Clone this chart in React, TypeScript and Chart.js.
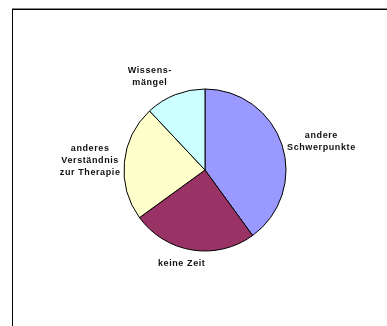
import React, { useEffect, useRef } from "react";
import { Chart, registerables } from "chart.js";

Chart.register(...registerables);

const categories: string[][] = [
  ["andere", "Schwerpunkte"],
  ["keine Zeit"],
  ["anderes", "Verständnis", "zur Therapie"],
  ["Wissens-", "mängel"],
];
const values: number[] = [40, 25, 23, 12];
const colors: string[] = ["#9999FF", "#993366", "#FFFFCC", "#CCFFFF"];
const labelNudges: number[][] = [
  [1, 2],
  [-6, 2],
  [2, 0],
  [-15, -1],
];

const labelPlugin = {
  id: "pieLabels",
  afterDatasetsDraw(chart: any) {
    const ctx = chart.ctx;
    const meta = chart.getDatasetMeta(0);
    ctx.save();
    ctx.font = "bold 9px 'Liberation Sans', Arial, sans-serif";
    (ctx as any).letterSpacing = "0.6px";
    ctx.fillStyle = "#111111";
    ctx.textAlign = "center";
    ctx.textBaseline = "middle";
    const lineH = 12;
    meta.data.forEach((arc: any, i: number) => {
      const p = arc.getProps(["x", "y", "startAngle", "endAngle", "outerRadius"], true);
      const mid = (p.startAngle + p.endAngle) / 2;
      const dx = Math.cos(mid);
      const dy = Math.sin(mid);
      const gap = 6;
      const ax = p.x + (p.outerRadius + gap) * dx;
      const ay = p.y + (p.outerRadius + gap) * dy;
      const lines = categories[i];
      const w = Math.max(...lines.map((l) => ctx.measureText(l).width));
      const h = lines.length * lineH;
      const cx = ax + (dx * w) / 2 + labelNudges[i][0];
      const cy = ay + (dy * h) / 2 + labelNudges[i][1];
      lines.forEach((l, j) => {
        ctx.fillText(l, cx, cy - h / 2 + lineH / 2 + j * lineH);
      });
    });
    ctx.restore();
  },
};

export default function App() {
  const ref = useRef<HTMLCanvasElement | null>(null);
  useEffect(() => {
    document.documentElement.style.overflow = "hidden";
    document.body.style.margin = "0";
    document.body.style.overflow = "hidden";
    const chart = new Chart(ref.current as HTMLCanvasElement, {
      type: "pie",
      data: {
        labels: categories.map((c) => c.join(" ")),
        datasets: [
          {
            data: values,
            backgroundColor: colors,
            borderColor: "#000000",
            borderWidth: 1,
          },
        ],
      },
      options: {
        responsive: false,
        animation: false,
        devicePixelRatio: 1,
        radius: 81,
        layout: { padding: { left: 40, right: 17, top: 20, bottom: 6 } },
        plugins: {
          legend: { display: false },
          tooltip: { enabled: false },
          title: { display: false },
        },
      },
      plugins: [labelPlugin],
    });
    return () => chart.destroy();
  }, []);
  return (
    <div style={{ position: "fixed", left: 0, top: 0, width: 387, height: 326, overflow: "hidden", background: "#fff" }}>
      <div
        style={{
          position: "absolute",
          left: 12,
          top: 8,
          width: 380,
          height: 330,
          boxSizing: "border-box",
          borderTop: "1px solid #888",
        }}
      />
      <div
        style={{
          position: "absolute",
          left: 12,
          top: 9,
          width: 380,
          height: 330,
          boxSizing: "border-box",
          borderLeft: "1px solid #000",
          borderTop: "1px solid #000",
        }}
      />
      <canvas ref={ref} width={387} height={326} style={{ position: "absolute", left: 0, top: 0, display: "block" }} />
    </div>
  );
}
